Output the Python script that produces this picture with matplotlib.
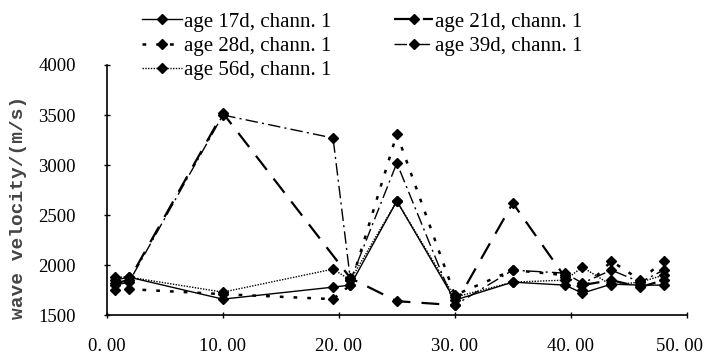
import matplotlib
matplotlib.use("Agg")

import matplotlib.pyplot as plt
from matplotlib.ticker import FuncFormatter
from matplotlib.transforms import ScaledTranslation

# ages / channel 1, wave velocity (m/s) against position
x_17d = [0.7, 1.9, 10, 19.5, 21, 25, 30, 35, 39.5, 41, 43.5, 46, 48]
v_17d = [1850, 1880, 1660, 1780, 1800, 2640, 1650, 1830, 1800, 1720, 1810, 1800, 1800]

x_21d = [0.7, 1.9, 10, 21, 25, 30, 35, 39.5, 41, 43.5, 46, 48]
v_21d = [1820, 1850, 3520, 1870, 1640, 1600, 2620, 1880, 1800, 1850, 1780, 1850]

x_28d = [0.7, 1.9, 10, 19.5, 21, 25, 30, 35, 39.5, 41, 43.5, 46, 48]
v_28d = [1750, 1760, 1710, 1660, 1800, 3310, 1700, 1950, 1900, 1750, 2040, 1850, 2040]

x_39d = [0.7, 1.9, 10, 19.5, 21, 25, 30, 35, 39.5, 41, 43.5, 46, 48]
v_39d = [1800, 1830, 3500, 3270, 1850, 3020, 1600, 1950, 1920, 1820, 1950, 1830, 1950]

x_56d = [0.7, 1.9, 10, 19.5, 21, 25, 30, 35, 39.5, 41, 43.5, 46, 48]
v_56d = [1880, 1880, 1730, 1960, 1850, 2640, 1680, 1830, 1850, 1980, 1800, 1830, 1900]

labels = ["age 17d, chann. 1", "age 21d, chann. 1", "age 28d, chann. 1",
          "age 39d, chann. 1", "age 56d, chann. 1"]

plt.rcParams["font.family"] = ["Liberation Serif", "DejaVu Serif"]

fig = plt.figure(figsize=(7.08, 3.61), dpi=100)
ax = fig.add_axes([0.151, 0.127, 0.819, 0.693])

mk = dict(marker="D", markersize=5.5, color="black", markerfacecolor="black")
l17, = ax.plot(x_17d, v_17d, linestyle="-", lw=1.0, label=labels[0], **mk)
l21, = ax.plot(x_21d, v_21d, linestyle=(0, (8, 5)), lw=1.6, label=labels[1], **mk)
l28, = ax.plot(x_28d, v_28d, linestyle=(0, (1.5, 4)), lw=1.8, label=labels[2], **mk)
l39, = ax.plot(x_39d, v_39d, linestyle=(0, (9, 3, 1.5, 3)), lw=1.0, label=labels[3], **mk)
l56, = ax.plot(x_56d, v_56d, linestyle=(0, (1, 1)), lw=1.0, label=labels[4], **mk)

ax.set_xlim(0, 50)
ax.set_ylim(1500, 4000)
ax.set_xticks([0, 10, 20, 30, 40, 50])
ax.set_yticks([1500, 2000, 2500, 3000, 3500, 4000])
ax.xaxis.set_major_formatter(FuncFormatter(lambda v, p: f"{v:.2f}".replace(".", ". ")))
ax.tick_params(axis="both", direction="inout", length=5, width=1, labelsize=13.5)
ax.tick_params(axis="x", pad=14)
ax.tick_params(axis="y", pad=20)
for s in ("top", "right"):
    ax.spines[s].set_visible(False)
for s in ("left", "bottom"):
    ax.spines[s].set_linewidth(1.2)

# last x label sits against the right edge, nudge it in a little
last = ax.get_xticklabels()[-1]
last.set_transform(last.get_transform() + ScaledTranslation(-5 / 72, 0, fig.dpi_scale_trans))

ax.set_ylabel("wave velocity/(m/s)", family=["Liberation Mono", "DejaVu Sans Mono"],
              fontsize=14, fontweight="bold", color="#444444")
ax.yaxis.set_label_coords(-0.137, 0.43)

leg = fig.legend([l17, l28, l56, l21, l39],
                 [labels[0], labels[2], labels[4], labels[1], labels[3]],
                 ncol=2, loc="upper left", bbox_to_anchor=(0.195, 0.978),
                 fontsize=15, frameon=True, handlelength=1.9, handletextpad=0.1,
                 labelspacing=0.22, columnspacing=3.0, borderaxespad=0.1,
                 borderpad=0.1, fancybox=False)
leg.get_frame().set_edgecolor("white")
leg.get_frame().set_facecolor("white")
leg.get_frame().set_alpha(1)
leg.set_zorder(10)

fig.savefig("out.png", dpi=100)
